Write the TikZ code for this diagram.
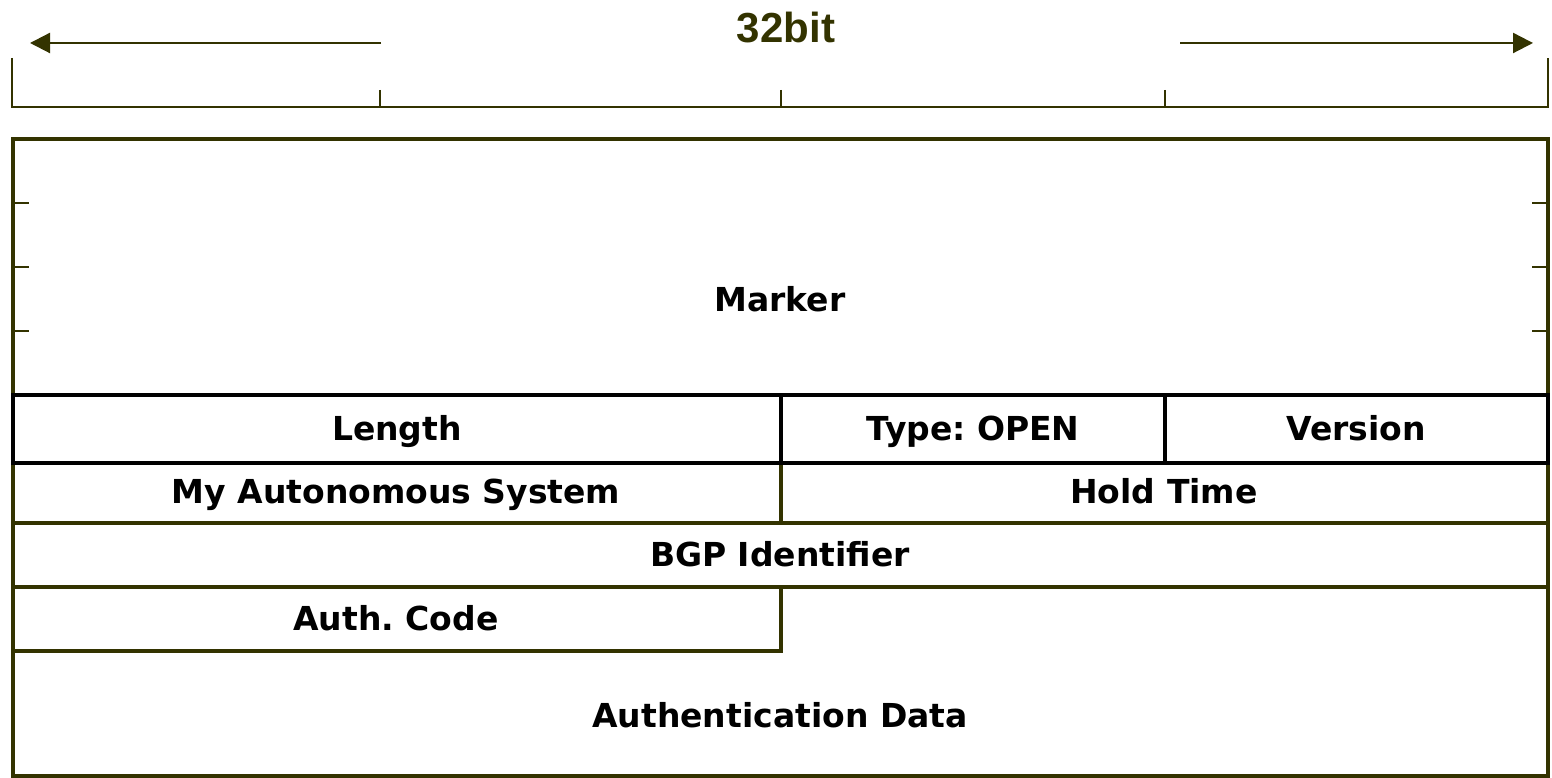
\documentclass[tikz,border=0pt]{standalone}
\usepackage{fontspec}
\setmainfont{DejaVu Sans}
\newfontfamily\headfont{Liberation Sans}
\usetikzlibrary{arrows.meta}
\definecolor{olive}{HTML}{333300}
\frenchspacing
\tikzset{
  frame/.style={draw=olive, line width=3.4pt},
  rowline/.style={draw=black, line width=3.4pt},
  ruler/.style={draw=olive, line width=2.6pt},
  span/.style={draw=olive, line width=2.2pt, -{Triangle[length=20pt,width=20pt]}},
  field/.style={anchor=base, inner sep=0pt, font=\fontsize{33}{33}\selectfont\bfseries, text=black},
  head/.style={anchor=base, inner sep=0pt, font=\headfont\fontsize{42}{42}\selectfont\bfseries, text=olive}
}
\begin{document}
\begin{tikzpicture}[x=1pt,y=1pt]
\useasboundingbox (0,0) rectangle (1552,778);

% width ruler above the header
\node[head] (width) at (786,735) {32bit};
\coordinate (al) at (381,735);
\coordinate (alt) at (30,735);
\coordinate (ar) at (1180,735);
\coordinate (art) at (1533,735);
\draw[span] (al) -- (alt);
\draw[span] (ar) -- (art);
\draw[ruler] (12,720) -- (12,671) -- (1548,671) -- (1548,720);
\foreach \x in {380,781,1165} \draw[ruler] (\x,688) -- (\x,671);

% outer frame and row boundaries
\draw[frame] (13,639) rectangle (1548,2);
\foreach \y in {575,511,447} {
  \draw[ruler] (13,\y) -- (29,\y);
  \draw[ruler] (1532,\y) -- (1548,\y);
}
\draw[frame] (781,315) -- (781,255);
\draw[frame] (13,255) -- (1548,255);
\draw[frame] (13,191) -- (1548,191);
\draw[frame] (781,191) -- (781,127) -- (13,127);
\draw[rowline] (13,383) rectangle (1548,315);
\draw[rowline] (781,383) -- (781,315);
\draw[rowline] (1165,383) -- (1165,315);

% field labels
\node[field] (marker) at (780,466) {Marker};
\node[field] (length) at (397,337) {Length};
\node[field] (type) at (973,337) {Type: OPEN};
\node[field] (version) at (1356,337) {Version};
\node[field] (myas) at (396,274) {My Autonomous System};
\node[field] (hold) at (1164,274) {Hold Time};
\node[field] (bgpid) at (780,211) {BGP Identifier};
\node[field] (authcode) at (396,147) {Auth. Code};
\node[field] (authdata) at (780,50) {Authentication Data};
\end{tikzpicture}
\end{document}
